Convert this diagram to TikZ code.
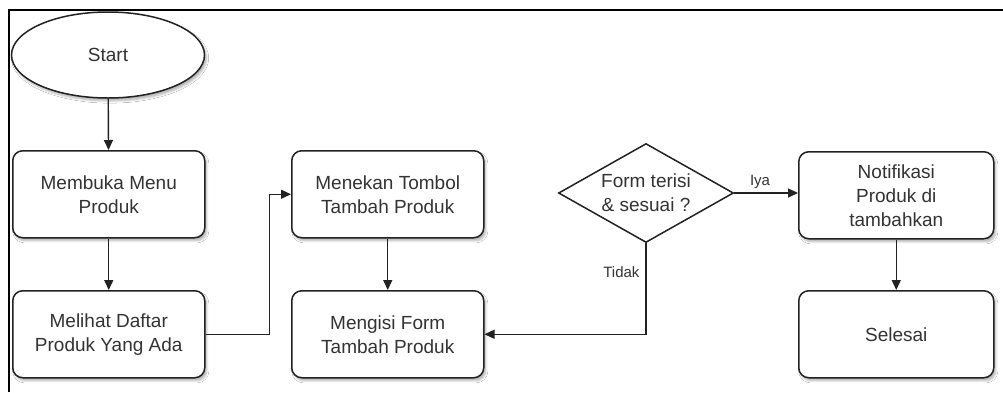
\documentclass[tikz,border=0pt]{standalone}
\usepackage{fontspec}
\setmainfont{Liberation Sans}
\usetikzlibrary{shapes.geometric,arrows.meta,shadows.blur}
\definecolor{ink}{HTML}{222222}
\definecolor{txt}{HTML}{333333}
\begin{document}
\begin{tikzpicture}[x=1pt,y=-1pt,
  every node/.style={font=\fontsize{19}{24}\selectfont, text=txt},
  shade/.style={blur shadow={shadow xshift=2pt, shadow yshift=-3pt, shadow blur steps=6, shadow opacity=30}},
  stepbox/.style={draw=ink, line width=1.5pt, rounded corners=10pt, fill=white, shade,
    minimum width=192pt, minimum height=87pt, inner sep=0pt, align=center, anchor=north west},
  startshape/.style={draw=ink, line width=1.5pt, ellipse, fill=white, shade,
    minimum width=193pt, minimum height=86pt, inner sep=0pt},
  decision/.style={draw=ink, line width=1.5pt, diamond, fill=white, aspect=1.77,
    minimum width=175pt, minimum height=99pt, inner sep=0pt, align=center},
  flow/.style={draw=ink, line width=1.4pt, -{Triangle[length=10pt,width=9pt]}},
  small/.style={font=\fontsize{15}{18}\selectfont}
]
\useasboundingbox (0,0) rectangle (1003,392);
\fill[white] (0,0) rectangle (1003,392);
% outer frame: top and left edges
\draw[black, line width=2pt] (9,392) -- (9,10) -- (1003,10);

% nodes
\node[startshape] (start) at (108,55) {Start};
\node[stepbox] (menu) at (12,150) {Membuka Menu\\Produk};
\node[stepbox] (daftar) at (12,290) {Melihat Daftar\\Produk Yang Ada};
\node[stepbox] (tombol) at (291,150) {Menekan Tombol\\Tambah Produk};
\node[stepbox] (isi) at (291,290) {Mengisi Form\\Tambah Produk};
\node[decision] (cek) at (646,193) {Form terisi\\\& sesuai ?};
\node[stepbox, minimum width=195pt] (notif) at (798,151) {Notifikasi\\Produk di\\tambahkan};
\node[stepbox, minimum width=195pt] (selesai) at (798,290) {Selesai};

% connectors
\draw[flow] (start) -- (menu);
\draw[flow] (menu) -- (daftar);
\draw[flow] (daftar.east) -- ++(64,0) |- (tombol.west);
\draw[flow] (tombol) -- (isi);
\draw[flow] (cek.east) -- (notif.west |- cek.east);
\node[small] (iya) at (760,182) {Iya};
\draw[flow] (cek.south) |- (isi.east);
\node[small, anchor=east] (tidak) at (643,272) {Tidak};
\draw[flow] (notif) -- (selesai);
\end{tikzpicture}
\end{document}
